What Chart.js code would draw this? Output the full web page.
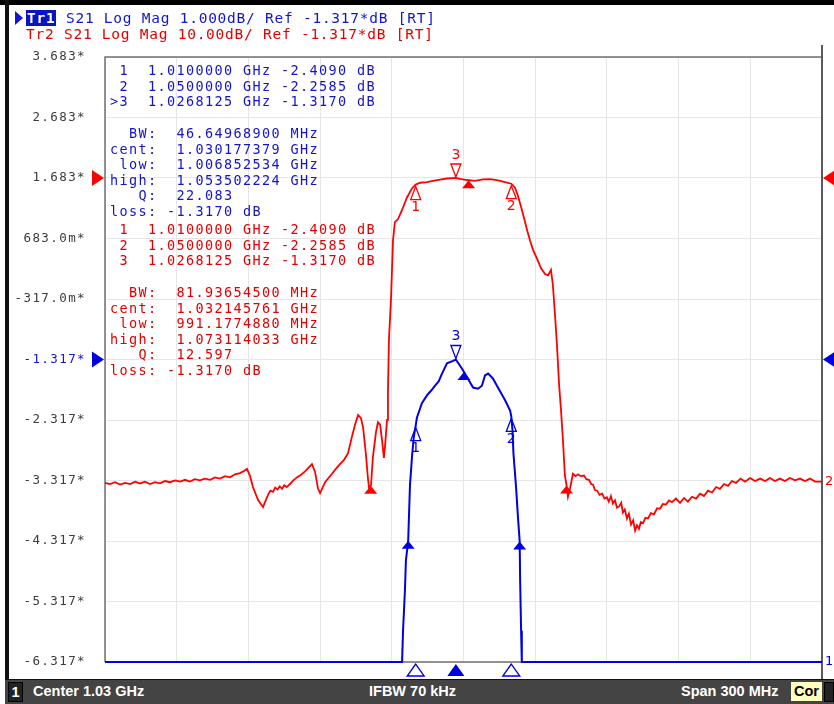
<!DOCTYPE html>
<html>
<head>
<meta charset="utf-8">
<title>S21 Log Mag</title>
<script src="https://cdn.jsdelivr.net/npm/chart.js@4.4.1/dist/chart.umd.min.js"></script>
<style>
  html, body { margin: 0; padding: 0; background: #fff; }
  #wrap { position: relative; width: 834px; height: 704px; overflow: hidden; background: #fff; }
  #c { position: absolute; left: 0; top: 0; }
  .mono { position: absolute; font-family: "DejaVu Sans Mono", monospace; white-space: pre; }
  .hdr { font-size: 14.5px; letter-spacing: 0.75px; line-height: 16px; left: 26px; }
  .tbl { font-size: 13.5px; letter-spacing: 1.37px; line-height: 15.6px; left: 110px; }
  .blue { color: #1414c8; }
  .red { color: #e00000; }
  .hl { background: #0a14c0; color: #fff; font-weight: bold; padding: 0 1px; }
  #arrow { position: absolute; left: 15px; top: 11px; width: 0; height: 0;
           border-left: 8px solid #1414d8; border-top: 7px solid transparent; border-bottom: 7px solid transparent; }
  #topbar { position: absolute; left: 0; top: 0; width: 834px; height: 5px; background: #000; }
  #leftbar { position: absolute; left: 5px; top: 0; width: 4px; height: 680px; background: #111; }
  #status { position: absolute; left: 5px; top: 679px; width: 829px; height: 25px; background: #444;
            border-top: 1px solid #111; box-sizing: border-box;
            font-family: "Liberation Sans", Arial, sans-serif; font-weight: bold; font-size: 14.5px; color: #fff; }
  #status span { position: absolute; top: 0; line-height: 23px; }
  #chan { left: 3px; top: 2px !important; width: 13px; height: 18px; line-height: 18px !important;
          background: #222; border: 1px solid #000; text-align: center; }
  #cor { left: 786px; top: 2px !important; width: 31px; height: 19px; line-height: 19px !important;
         background: #ffffbe; color: #000; text-align: center; }
  #endbox { left: 819px; top: 2px !important; width: 8px; height: 18px; background: #222; border: 1px solid #000; }
</style>
</head>
<body>
<div id="wrap">
  <canvas id="c" width="834" height="704"></canvas>
  <div id="topbar"></div>
  <div id="leftbar"></div>

  <div id="arrow"></div>
  <div class="mono hdr blue" style="top:10px"><span class="hl">Tr1</span> S21 Log Mag 1.000dB/ Ref -1.317*dB [RT]</div>
  <div class="mono hdr red" style="top:26px">Tr2 S21 Log Mag 10.00dB/ Ref -1.317*dB [RT]</div>

  <div class="mono tbl blue" style="top:63px"> 1  1.0100000 GHz -2.4090 dB
 2  1.0500000 GHz -2.2585 dB
&gt;3  1.0268125 GHz -1.3170 dB</div>
  <div class="mono tbl blue" style="top:126px">  BW:  46.64968900 MHz
cent:  1.030177379 GHz
 low:  1.006852534 GHz
high:  1.053502224 GHz
   Q:  22.083
loss: -1.3170 dB</div>
  <div class="mono tbl red" style="top:222px"> 1  1.0100000 GHz -2.4090 dB
 2  1.0500000 GHz -2.2585 dB
 3  1.0268125 GHz -1.3170 dB</div>
  <div class="mono tbl red" style="top:285px">  BW:  81.93654500 MHz
cent:  1.032145761 GHz
 low:  991.1774880 MHz
high:  1.073114033 GHz
   Q:  12.597
loss: -1.3170 dB</div>

  <div id="status">
    <span id="chan">1</span>
    <span style="left:28px">Center 1.03 GHz</span>
    <span style="left:364px">IFBW 70 kHz</span>
    <span style="left:676px">Span 300 MHz</span>
    <span id="cor">Cor</span>
    <span id="endbox"></span>
  </div>
</div>

<script>
// Tr1 (blue), 1 dB/div, values below -6.317 sit on the bottom line
const blueMHz = [880, 1004.3, 1004.7, 1005.5, 1005.9, 1006.85, 1007.6, 1008.5, 1009.2, 1010.0,
  1010.5, 1012.6, 1014.7, 1016.5, 1018.1, 1019.6, 1021.0, 1023.1, 1025.6, 1026.8,
  1027.7, 1029.4, 1031.5, 1034.0, 1036.1, 1037.7, 1039.0, 1040.3, 1042.3, 1044.4,
  1047.4, 1049.5, 1050.0, 1050.5, 1050.9, 1052.0, 1052.8, 1053.5, 1053.7, 1054.1, 1054.4, 1180];
const blueDb = [-6.317, -6.317, -5.8, -5.13, -4.64, -4.317, -3.4, -2.9, -2.6, -2.409,
  -2.28, -2.04, -1.91, -1.83, -1.75, -1.68, -1.55, -1.38, -1.34, -1.317,
  -1.37, -1.47, -1.61, -1.78, -1.80, -1.75, -1.58, -1.55, -1.63, -1.78,
  -1.99, -2.16, -2.2585, -2.49, -2.87, -3.43, -3.93, -4.317, -4.97, -5.8, -6.317, -6.317];

// Tr2 (red), 10 dB/div
const redMHz = [880.0, 882.1, 884.2, 886.3, 888.4, 890.5, 892.6, 894.6, 896.7, 898.8,
  900.9, 903.0, 905.1, 907.2, 909.3, 911.4, 913.5, 915.5, 917.6, 919.7,
  921.8, 924.0, 926.0, 928.1, 930.2, 932.3, 934.4, 936.5, 938.3, 939.4,
  940.7, 941.9, 944.0, 946.1, 948.2, 949.2, 950.3, 951.2, 952.2, 953.1,
  954.1, 955.0, 956.0, 957.4, 958.8, 960.3, 961.9, 963.7, 965.2, 966.6,
  967.9, 969.1, 970.0, 972.1, 973.5, 975.0, 976.6, 978.3, 980.0, 981.7,
  983.3, 984.6, 985.9, 987.1, 988.0, 989.2, 990.0, 990.5, 991.3, 992.1,
  993.4, 994.2, 995.1, 995.9, 996.7, 997.2, 998.0, 998.4, 998.8, 999.7,
  1000.5, 1001.3, 1002.6, 1004.3, 1006.4, 1008.5, 1010.0, 1011.8, 1014.7, 1017.2,
  1020.2, 1023.1, 1025.6, 1026.8, 1028.5, 1031.5, 1034.8, 1038.2, 1041.1, 1044.0,
  1046.9, 1050.0, 1051.6, 1052.8, 1054.1, 1055.3, 1056.6, 1057.8, 1059.1, 1060.8,
  1062.4, 1064.1, 1065.4, 1066.6, 1067.4, 1068.3, 1069.1, 1070.0, 1070.8, 1071.6,
  1072.4, 1073.1, 1073.7, 1074.6, 1075.8, 1076.9, 1077.9, 1079.0, 1080.4, 1081.4,
  1082.5, 1083.4, 1084.2, 1085.0, 1085.9, 1086.9, 1088.0, 1089.0, 1090.0, 1090.8,
  1091.7, 1092.5, 1093.4, 1094.2, 1095.1, 1096.0, 1096.7, 1097.5, 1098.4, 1099.2,
  1100.1, 1101.0, 1101.8, 1102.6, 1103.4, 1104.2, 1105.1, 1106.1, 1107.2, 1108.4,
  1109.7, 1111.0, 1112.2, 1113.4, 1114.7, 1116.0, 1117.2, 1118.9, 1120.6, 1122.3,
  1123.9, 1125.6, 1127.3, 1129.0, 1130.6, 1132.3, 1134.0, 1135.7, 1137.3, 1139.0,
  1140.7, 1142.3, 1144.0, 1145.9, 1147.8, 1149.9, 1152.0, 1154.1, 1156.2, 1158.2,
  1160.3, 1162.4, 1164.5, 1166.6, 1168.7, 1170.8, 1172.9, 1175.0, 1177.1, 1180.0];
const redDb = [-51.7, -51.9, -51.6, -52.0, -51.7, -51.9, -51.5, -51.8, -51.5, -51.9,
  -51.6, -51.8, -51.4, -51.6, -51.3, -51.5, -51.2, -51.5, -51.1, -51.3,
  -51.0, -51.2, -50.8, -51.0, -50.6, -50.8, -50.3, -50.1, -49.7, -49.4,
  -50.6, -52.4, -54.5, -55.7, -53.7, -53.0, -53.2, -52.5, -52.8, -52.3,
  -52.7, -52.1, -52.4, -51.9, -51.3, -50.8, -50.4, -49.8, -49.2, -48.6,
  -49.9, -52.6, -53.4, -51.6, -50.9, -50.2, -49.4, -48.6, -47.9, -46.8,
  -44.1, -42.1, -40.5, -41.0, -42.6, -47.1, -50.9, -52.6, -52.1, -47.4,
  -43.3, -41.7, -42.1, -44.6, -47.6, -45.5, -41.3, -36.7, -28.1, -21.0,
  -11.6, -8.6, -8.1, -6.6, -4.5, -3.0, -2.409, -2.1, -2.0, -1.8,
  -1.6, -1.4, -1.35, -1.317, -1.45, -1.65, -1.8, -1.55, -1.5, -1.65,
  -1.95, -2.2585, -2.97, -4.3, -6.1, -7.9, -9.9, -11.6, -13.2, -14.7,
  -16.2, -17.2, -17.4, -16.5, -19.0, -24.0, -28.9, -35.5, -39.7, -44.6,
  -50.4, -52.1, -54.0, -52.6, -50.2, -50.6, -50.3, -50.6, -50.5, -51.1,
  -51.2, -51.9, -52.0, -52.9, -53.0, -53.7, -53.5, -54.3, -54.1, -54.8,
  -53.9, -55.1, -54.6, -55.8, -55.6, -55.0, -56.6, -56.1, -57.6, -56.8,
  -58.6, -57.9, -59.6, -58.7, -59.3, -58.2, -58.4, -57.5, -57.6, -56.7,
  -56.9, -55.9, -56.0, -55.2, -55.3, -54.6, -54.9, -54.3, -55.0, -54.2,
  -54.8, -54.0, -54.3, -53.5, -53.9, -53.0, -53.3, -52.4, -52.7, -51.9,
  -52.2, -51.4, -51.7, -51.0, -51.5, -50.9, -51.4, -51.0, -51.4, -50.9,
  -51.4, -51.0, -51.4, -50.9, -51.3, -51.0, -51.4, -51.0, -51.5, -51.5];

// markers 1, 2, 3 (same frequencies on both traces)
const markerNames = ['1', '2', '3'];
const markerMHz = [1010.0, 1050.0, 1026.8125];
const blueMarkerDb = [-2.409, -2.2585, -1.317];
const redMarkerDb = [-2.409, -2.2585, -1.317];
// bandwidth search: low, cent, high
const blueBwMHz = [1006.852534, 1030.177379, 1053.502224];
const redBwMHz = [991.177488, 1032.145761, 1073.114033];

const refDb = -1.317;
const xTicks = [880, 910, 940, 970, 1000, 1030, 1060, 1090, 1120, 1150, 1180];
const yTicks = [-6.317, -5.317, -4.317, -3.317, -2.317, -1.317, -0.317, 0.683, 1.683, 2.683, 3.683];
const yTickLabels = ['-6.317*', '-5.317*', '-4.317*', '-3.317*', '-2.317*', '-1.317*',
  '-317.0m*', '683.0m*', '1.683*', '2.683*', '3.683*'];

const BLUE = '#0000e0';
const RED = '#ff0000';

function valueAt(xs, ys, f) {
  for (let i = 1; i < xs.length; i++) {
    if (f <= xs[i]) {
      const t = (f - xs[i - 1]) / (xs[i] - xs[i - 1]);
      return ys[i - 1] + t * (ys[i] - ys[i - 1]);
    }
  }
  return ys[ys.length - 1];
}

// apex at (x,y); dir 1 = body below, -1 = body above
function tri(ctx, x, y, w, h, dir, filled, color) {
  ctx.beginPath();
  ctx.moveTo(x, y);
  ctx.lineTo(x - w / 2, y + dir * h);
  ctx.lineTo(x + w / 2, y + dir * h);
  ctx.closePath();
  if (filled) {
    ctx.fillStyle = color;
    ctx.fill();
  } else {
    ctx.strokeStyle = color;
    ctx.lineWidth = 1.3;
    ctx.stroke();
  }
}

function sideTri(ctx, xTip, y, dir, color) {
  ctx.beginPath();
  ctx.moveTo(xTip, y);
  ctx.lineTo(xTip + dir * 12, y - 8);
  ctx.lineTo(xTip + dir * 12, y + 8);
  ctx.closePath();
  ctx.fillStyle = color;
  ctx.fill();
}

const framePlugin = {
  id: 'frame',
  beforeDraw(chart) {
    chart.ctx.letterSpacing = '1.4px';
  },
  beforeDatasetsDraw(chart) {
    const ctx = chart.ctx, a = chart.chartArea;
    ctx.save();
    ctx.letterSpacing = '0px';
    ctx.strokeStyle = '#707070';
    ctx.lineWidth = 1.5;
    ctx.beginPath();
    ctx.moveTo(a.left, a.bottom);
    ctx.lineTo(a.left, a.top);
    ctx.lineTo(a.right, a.top);
    ctx.stroke();
    ctx.beginPath();
    ctx.moveTo(a.left, a.bottom);
    ctx.lineTo(a.right, a.bottom);
    ctx.stroke();
    ctx.strokeStyle = '#5a5a5a';
    ctx.lineWidth = 2;
    ctx.beginPath();
    ctx.moveTo(a.right, 45);
    ctx.lineTo(a.right, 679);
    ctx.stroke();
    ctx.restore();
  },
  afterDatasetsDraw(chart) {
    const ctx = chart.ctx, a = chart.chartArea;
    const x = chart.scales.x, yb = chart.scales.y, yr = chart.scales.y2;
    ctx.save();
    ctx.letterSpacing = '0px';
    ctx.font = '14px "DejaVu Sans", sans-serif';
    ctx.textAlign = 'center';
    ctx.textBaseline = 'middle';

    const traces = [
      { scale: yr, color: RED, mk: redMarkerDb, bw: redBwMHz, xs: redMHz, ys: redDb },
      { scale: yb, color: BLUE, mk: blueMarkerDb, bw: blueBwMHz, xs: blueMHz, ys: blueDb }
    ];
    traces.forEach(t => {
      markerMHz.forEach((f, i) => {
        const px = x.getPixelForValue(f);
        const py = t.scale.getPixelForValue(t.mk[i]);
        if (i === 2) {
          tri(ctx, px, py - 1, 10, 13, -1, false, t.color);
          ctx.fillStyle = t.color;
          ctx.fillText(markerNames[i], px, py - 23);
        } else {
          tri(ctx, px, py + 2, 10, 13, 1, false, t.color);
          ctx.fillStyle = t.color;
          ctx.fillText(markerNames[i], px, py + 23);
        }
      });
      t.bw.forEach(f => {
        const px = x.getPixelForValue(f);
        const py = t.scale.getPixelForValue(valueAt(t.xs, t.ys, f));
        tri(ctx, px, py, 13, 8, 1, true, t.color);
      });
      const yRef = t.scale.getPixelForValue(refDb);
      sideTri(ctx, a.left - 1, yRef, -1, t.color);
      sideTri(ctx, a.right + 1, yRef, 1, t.color);
    });

    // marker positions under the axis (active trace Tr1)
    markerMHz.forEach((f, i) => {
      const px = x.getPixelForValue(f);
      tri(ctx, px, a.bottom + 2, 17, 12, 1, i === 2, BLUE);
    });

    // trace end labels
    ctx.font = '13px "DejaVu Sans", sans-serif';
    ctx.textAlign = 'left';
    ctx.fillStyle = RED;
    ctx.fillText('2', a.right + 3, yr.getPixelForValue(redDb[redDb.length - 1]));
    ctx.fillStyle = BLUE;
    ctx.fillText('1', a.right + 3, yb.getPixelForValue(blueDb[blueDb.length - 1]));
    ctx.restore();
  },
  afterDraw(chart) {
    chart.ctx.letterSpacing = '0px';
  }
};

const toPoints = (xs, ys) => xs.map((v, i) => ({ x: v, y: ys[i] }));

new Chart(document.getElementById('c'), {
  type: 'line',
  data: {
    datasets: [
      {
        label: 'Tr2 S21',
        data: toPoints(redMHz, redDb),
        yAxisID: 'y2',
        borderColor: RED,
        borderWidth: 1.8,
        pointRadius: 0,
        tension: 0,
        clip: 4
      },
      {
        label: 'Tr1 S21',
        data: toPoints(blueMHz, blueDb),
        yAxisID: 'y',
        borderColor: BLUE,
        borderWidth: 2,
        pointRadius: 0,
        tension: 0,
        clip: 4
      }
    ]
  },
  options: {
    responsive: false,
    animation: false,
    events: [],
    layout: { padding: { top: 57, right: 12, bottom: 42, left: 0 } },
    plugins: {
      legend: { display: false },
      tooltip: { enabled: false }
    },
    scales: {
      x: {
        type: 'linear',
        min: 880,
        max: 1180,
        afterBuildTicks: s => { s.ticks = xTicks.map(v => ({ value: v })); },
        afterFit: s => { s.height = 0; },
        ticks: { display: false },
        grid: { color: '#e6e6e6', drawTicks: false },
        border: { display: false }
      },
      y: {
        position: 'left',
        min: -6.317,
        max: 3.683,
        afterBuildTicks: s => { s.ticks = yTicks.map(v => ({ value: v })); },
        afterFit: s => { s.width = 105; },
        ticks: {
          padding: 19,
          callback: (v, i) => yTickLabels[i],
          color: c => Math.abs(c.tick.value - refDb) < 1e-6 ? '#1414c8' : '#3c3c3c',
          font: { family: '"DejaVu Sans Mono", monospace', size: 12.5 }
        },
        grid: { color: '#e6e6e6', drawTicks: false },
        border: { display: false }
      },
      y2: {
        display: false,
        min: -81.317,
        max: 18.683
      }
    }
  },
  plugins: [framePlugin]
});
</script>
</body>
</html>
